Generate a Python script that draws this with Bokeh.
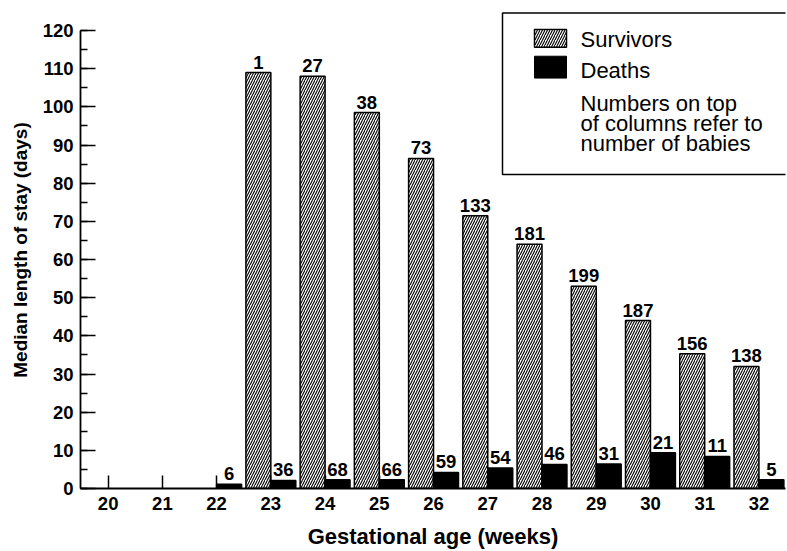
from bokeh.plotting import figure
from bokeh.models import Range1d, SingleIntervalTicker, FixedTicker
from bokeh.core.properties import value
from bokeh.embed import file_html
from bokeh.resources import INLINE

# Gestational age categories (weeks)
weeks = [20, 21, 22, 23, 24, 25, 26, 27, 28, 29, 30, 31, 32]

# Survivors: median length of stay (days) and number of babies
survivor_weeks = [23, 24, 25, 26, 27, 28, 29, 30, 31, 32]
survivor_days = [109, 108, 98.5, 86.5, 71.5, 64, 53, 44, 35.3, 32]
survivor_n = [1, 27, 38, 73, 133, 181, 199, 187, 156, 138]

# Deaths: median length of stay (days) and number of babies
death_weeks = [22, 23, 24, 25, 26, 27, 28, 29, 30, 31, 32]
death_days = [1.1, 2.1, 2.3, 2.3, 4.2, 5.4, 6.3, 6.4, 9.4, 8.4, 2.3]
death_n = [6, 36, 68, 66, 59, 54, 46, 31, 21, 11, 5]

legend_labels = ["Survivors", "Deaths"]
note_lines = ["Numbers on top", "of columns refer to", "number of babies"]

FONT = "Liberation Sans"
W, H = 787, 551
LEFT, RIGHT, TOP, BOTTOM = 80, 2, 11, 60
X0, X1 = 19.49, 32.49
Y0, Y1 = 0, 125
BAR_W = 0.46

p = figure(width=W, height=H, x_range=Range1d(X0, X1), y_range=Range1d(Y0, Y1),
           output_backend="svg", toolbar_location=None,
           min_border_left=LEFT, min_border_right=RIGHT,
           min_border_top=TOP, min_border_bottom=BOTTOM)
p.outline_line_color = None
p.grid.visible = False
p.background_fill_color = "white"
p.border_fill_color = "white"


def sx(px):
    """screen x (pixels) -> data x"""
    return X0 + (px - LEFT) * (X1 - X0) / (W - LEFT - RIGHT)


def sy(py):
    """screen y (pixels from top) -> data y"""
    return Y1 - (py - TOP) * (Y1 - Y0) / (H - TOP - BOTTOM)


hatch = dict(fill_color="white", line_color="black", line_width=1.5,
             hatch_pattern="/", hatch_color="black", hatch_scale=5, hatch_weight=1.1)

# Survivors bars sit left of each week tick, deaths bars to the right
p.vbar(x=[w - BAR_W / 2 for w in survivor_weeks], top=survivor_days, bottom=0,
       width=BAR_W, **hatch)
p.vbar(x=[w + BAR_W / 2 for w in death_weeks], top=death_days, bottom=0,
       width=BAR_W, fill_color="black", line_color="black", line_width=1.5)

label_style = dict(text_align="center", text_baseline="bottom", y_offset=-4,
                   text_font=value(FONT), text_font_style="bold",
                   text_font_size="18.5px", text_color="black")
p.text(x=[w - BAR_W / 2 for w in survivor_weeks], y=survivor_days,
       text=[str(n) for n in survivor_n], **label_style)
p.text(x=[w + BAR_W / 2 for w in death_weeks], y=death_days,
       text=[str(n) for n in death_n], **label_style)

# Key box in the top-right corner
p.quad(left=[sx(502)], right=[sx(820)], top=[sy(12.5)], bottom=[sy(175)],
       fill_color="white", line_color="black", line_width=1.5)
p.quad(left=[sx(534)], right=[sx(566)], top=[sy(29)], bottom=[sy(47)], **hatch)
p.quad(left=[sx(534)], right=[sx(566)], top=[sy(56)], bottom=[sy(78)],
       fill_color="black", line_color="black", line_width=1)
key_style = dict(text_align="left", text_baseline="bottom",
                 text_font=value(FONT), text_font_size="22px", text_color="black")
p.text(x=[sx(580)] * 2, y=[sy(52), sy(83)], text=legend_labels, **key_style)
p.text(x=[sx(580)] * 3, y=[sy(116), sy(136.5), sy(156.5)], text=note_lines, **key_style)

# Axes
xa = p.xaxis[0]
xa.ticker = FixedTicker(ticks=weeks, minor_ticks=[])
xa.major_tick_in = 13
xa.major_tick_out = 0
xa.minor_tick_line_color = None
xa.axis_line_width = 1.8
xa.major_tick_line_width = 1.5
xa.major_label_standoff = 8
xa.axis_label = "Gestational age (weeks)"
xa.axis_label_standoff = 11
xa.axis_label_text_font = FONT
xa.axis_label_text_font_style = "bold"
xa.axis_label_text_font_size = "22px"
xa.major_label_text_font = FONT
xa.major_label_text_font_style = "bold"
xa.major_label_text_font_size = "18.5px"
xa.major_label_text_color = "black"
xa.axis_label_text_color = "black"

ya = p.yaxis[0]
ya.ticker = SingleIntervalTicker(interval=10, num_minor_ticks=2)
ya.bounds = (0, 120)
ya.major_tick_in = 15
ya.major_tick_out = 0
ya.minor_tick_in = 7
ya.minor_tick_out = 0
ya.axis_line_width = 1.8
ya.major_tick_line_width = 1.5
ya.minor_tick_line_width = 1.5
ya.major_label_standoff = 7
ya.axis_label = "Median length of stay (days)"
ya.axis_label_standoff = 9
ya.axis_label_text_font = FONT
ya.axis_label_text_font_style = "bold"
ya.axis_label_text_font_size = "19px"
ya.major_label_text_font = FONT
ya.major_label_text_font_style = "bold"
ya.major_label_text_font_size = "18.5px"
ya.major_label_text_color = "black"
ya.axis_label_text_color = "black"

open("out.html", "w").write(file_html(p, INLINE))
